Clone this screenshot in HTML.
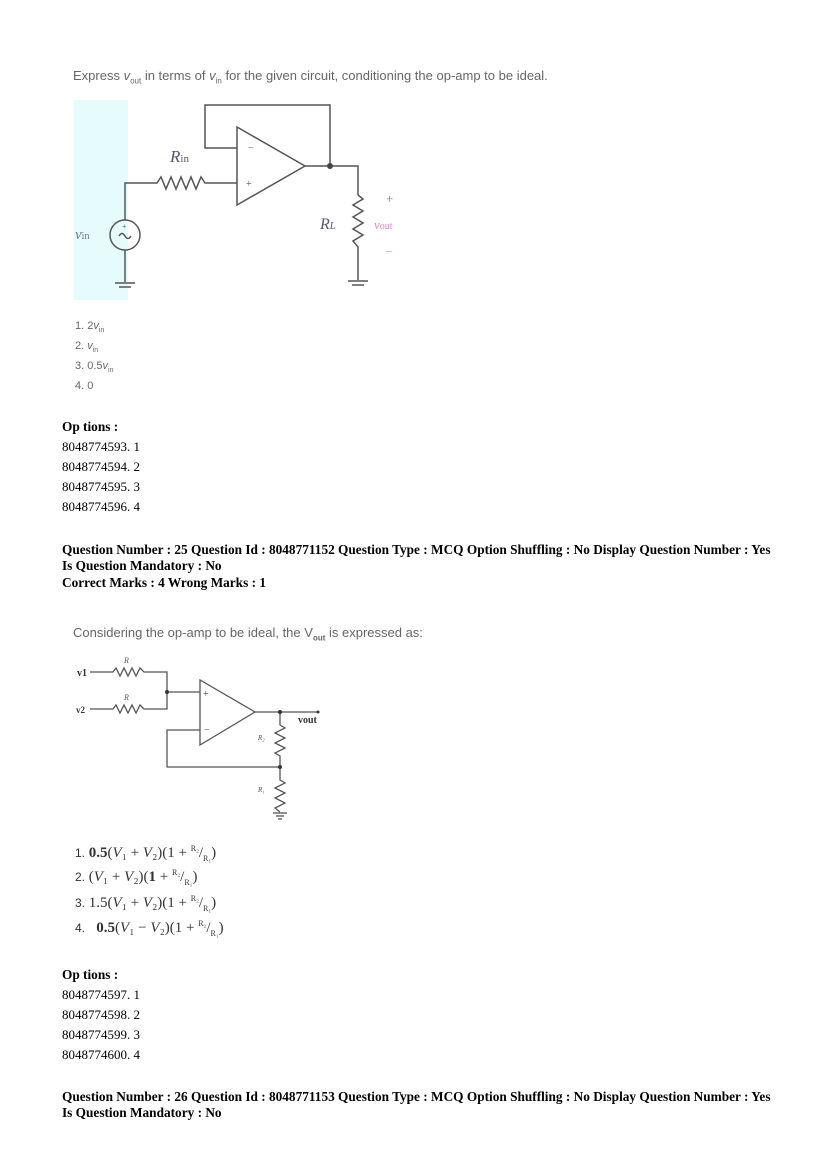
<!DOCTYPE html>
<html><head><meta charset="utf-8"><style>
body{margin:0;background:#fff;width:826px;height:1169px;position:relative;overflow:hidden}
.t{position:absolute;font-family:"Liberation Sans",sans-serif;font-size:11px;color:#666;white-space:nowrap}
.p{font-size:13px}
.s{position:absolute;font-family:"Liberation Serif",serif;font-size:13px;color:#000;white-space:nowrap}
.b{font-weight:bold;font-size:13.3px}
.m{position:absolute;font-family:"Liberation Serif",serif;font-size:15px;color:#333;white-space:nowrap}
</style></head><body>
<div class="t p" style="left:73px;top:68px">Express <i>v</i><sub style="font-size:8px">out</sub> in terms of <i>v</i><sub style="font-size:8px">in</sub> for the given circuit, conditioning the op-amp to be ideal.</div>
<svg width="826" height="1169" style="position:absolute;left:0;top:0">
<rect x="74" y="100" width="54" height="200" fill="#e6fbfc"/>
<g stroke="#555" stroke-width="1.5" fill="none">
<polyline points="237,148 205,148 205,105 330,105 330,166"/>
<polygon points="237,127 237,205 305,166"/>
<polyline points="305,166 358,166 358,195"/>
<polyline points="358,195 363,199 353,205 363,211 353,217 363,223 353,229 363,235 353,241 358,247 358,280"/>
<polyline points="237,183 205,183 201,177 196,189 191,177 186,189 181,177 176,189 171,177 166,189 161,177 157,183 125,183 125,220"/>
<circle cx="125" cy="235" r="15"/>
<path d="M119,236 q3,-5 6,0 q3,5 6,0"/>
<line x1="125" y1="250" x2="125" y2="282"/>
<line x1="115" y1="283" x2="135" y2="283"/><line x1="119" y1="287" x2="131" y2="287"/>
<line x1="348" y1="281" x2="368" y2="281"/><line x1="352" y1="285" x2="364" y2="285"/>
</g>
<circle cx="330" cy="166" r="3" fill="#444"/>
<text x="248" y="151" font-size="10" fill="#555">−</text>
<text x="246" y="187" font-size="10" fill="#555">+</text>
<text x="122" y="229" font-size="8" fill="#555">+</text>
<text x="170" y="162" font-family="Liberation Serif" font-style="italic" font-size="17" fill="#557">R<tspan font-size="11" font-style="normal">in</tspan></text>
<text x="320" y="229" font-family="Liberation Serif" font-style="italic" font-size="16" fill="#557">R<tspan font-size="10">L</tspan></text>
<text x="75" y="239" font-family="Liberation Serif" font-style="italic" font-size="15" fill="#778">v<tspan font-size="10" font-style="normal">in</tspan></text>
<text x="386" y="203" font-size="13" fill="#d4a">+</text>
<text x="374" y="229" font-family="Liberation Serif" font-style="italic" font-size="13" fill="#d8b">v<tspan font-size="10" font-style="normal">out</tspan></text>
<text x="385" y="256" font-size="13" fill="#d8b">−</text>

<g stroke="#555" stroke-width="1.3" fill="none">
<polyline points="90,672 113,672 116,668 120,676 124,668 128,676 132,668 136,676 140,668 144,672 167,672 167,709 144,709 140,705 136,713 132,705 128,713 124,705 120,713 116,705 113,709 90,709"/>
<line x1="167" y1="692" x2="200" y2="692"/>
<polygon points="200,680 200,745 255,712"/>
<polyline points="255,712 318,712"/>
<polyline points="280,712 280,725 285,728 275,733 285,738 275,743 285,748 275,753 280,756 280,767 167,767 167,730 200,730"/>
<polyline points="280,767 280,780 285,783 275,788 285,793 275,798 285,803 275,808 280,812"/>
<line x1="273" y1="813" x2="287" y2="813"/><line x1="276" y1="816" x2="284" y2="816"/><line x1="278" y1="819" x2="282" y2="819"/>
</g>
<circle cx="167" cy="692" r="2" fill="#333"/><circle cx="280" cy="712" r="2" fill="#333"/><circle cx="280" cy="767" r="2" fill="#333"/><circle cx="318" cy="712" r="1.5" fill="#333"/>
<text x="203" y="697" font-size="10" fill="#444">+</text>
<text x="204" y="733" font-size="10" fill="#444">−</text>
<text x="77" y="676" font-size="10" font-weight="bold" fill="#333">v1</text>
<text x="76" y="713" font-size="9" font-weight="bold" fill="#333">v2</text>
<text x="124" y="663" font-size="8" font-style="italic" fill="#555">R</text>
<text x="124" y="700" font-size="8" font-style="italic" fill="#555">R</text>
<text x="298" y="723" font-size="10" font-weight="bold" fill="#333">vout</text>
<text x="258" y="740" font-size="7" font-style="italic" fill="#555">R₂</text>
<text x="258" y="792" font-size="7" font-style="italic" fill="#555">R₁</text>
</svg>
<div class="t" style="left:75px;top:320px">1. 2<i>v</i><sub style="font-size:7px">in</sub></div>
<div class="t" style="left:75px;top:340px">2. <i>v</i><sub style="font-size:7px">in</sub></div>
<div class="t" style="left:75px;top:360px">3. 0.5<i>v</i><sub style="font-size:7px">in</sub></div>
<div class="t" style="left:75px;top:380px">4. 0</div>

<div class="s b" style="left:62px;top:419px">Op tions :</div>
<div class="s" style="left:62px;top:439px">8048774593. 1</div>
<div class="s" style="left:62px;top:459px">8048774594. 2</div>
<div class="s" style="left:62px;top:479px">8048774595. 3</div>
<div class="s" style="left:62px;top:499px">8048774596. 4</div>
<div class="s b" style="left:62px;top:542px">Question Number : 25 Question Id : 8048771152 Question Type : MCQ Option Shuffling : No Display Question Number : Yes</div>
<div class="s b" style="left:62px;top:558px">Is Question Mandatory : No</div>
<div class="s b" style="left:62px;top:575px">Correct Marks : 4 Wrong Marks : 1</div>
<div class="t p" style="left:73px;top:625px">Considering the op-amp to be ideal, the V<sub style="font-size:8px;font-weight:bold">out</sub> is expressed as:</div>

<div class="m" style="left:75px;top:844px"><span style="font-size:12px;font-family:'Liberation Sans'">1.</span> <b>0.5</b>(<i>V</i>₁ + <i>V</i>₂)(1 + <sup style="font-size:8px">R₂</sup>/<sub style="font-size:8px">R₁</sub>)</div>
<div class="m" style="left:75px;top:868px"><span style="font-size:12px;font-family:'Liberation Sans'">2.</span> (<i>V</i>₁ + <i>V</i>₂)(<b>1</b> + <sup style="font-size:8px">R₂</sup>/<sub style="font-size:8px">R₁</sub>)</div>
<div class="m" style="left:75px;top:894px"><span style="font-size:12px;font-family:'Liberation Sans'">3.</span> 1.5(<i>V</i>₁ + <i>V</i>₂)(1 + <sup style="font-size:8px">R₂</sup>/<sub style="font-size:8px">R₁</sub>)</div>
<div class="m" style="left:75px;top:919px"><span style="font-size:12px;font-family:'Liberation Sans'">4.</span> &nbsp; <b>0.5</b>(<i>V</i>₁ − <i>V</i>₂)(1 + <sup style="font-size:8px">R₂</sup>/<sub style="font-size:8px">R₁</sub>)</div>

<div class="s b" style="left:62px;top:967px">Op tions :</div>
<div class="s" style="left:62px;top:987px">8048774597. 1</div>
<div class="s" style="left:62px;top:1007px">8048774598. 2</div>
<div class="s" style="left:62px;top:1027px">8048774599. 3</div>
<div class="s" style="left:62px;top:1047px">8048774600. 4</div>
<div class="s b" style="left:62px;top:1089px">Question Number : 26 Question Id : 8048771153 Question Type : MCQ Option Shuffling : No Display Question Number : Yes</div>
<div class="s b" style="left:62px;top:1105px">Is Question Mandatory : No</div>
</body></html>
